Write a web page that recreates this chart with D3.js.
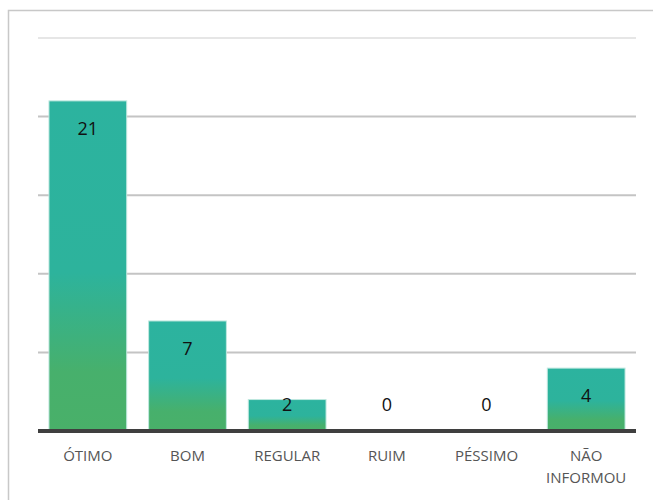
<!DOCTYPE html>
<html>
<head>
<meta charset="utf-8">
<script src="https://cdn.jsdelivr.net/npm/d3@7"></script>
<style>
  body { margin: 0; background: #fff; }
  svg { display: block; }
</style>
</head>
<body>
<div id="chart"></div>
<script>
var categories = ["ÓTIMO", "BOM", "REGULAR", "RUIM", "PÉSSIMO", "NÃO INFORMOU"];
var values = [21, 7, 2, 0, 0, 4];
var gridTicks = [0, 5, 10, 15, 20, 25];

var width = 653, height = 500;
var plot = {left: 38, right: 636, top: 38, bottom: 431};

var svg = d3.select("#chart").append("svg")
    .attr("width", width)
    .attr("height", height);

// frame (runs off the right and bottom edges)
svg.append("rect")
    .attr("x", 8.5).attr("y", 10.5)
    .attr("width", 700).attr("height", 600)
    .attr("fill", "none")
    .attr("stroke", "#c8c8c8")
    .attr("stroke-width", 1.5);

var x = d3.scaleBand()
    .domain(categories)
    .range([plot.left, plot.right])
    .paddingInner(0.22)
    .paddingOuter(0.11);

var y = d3.scaleLinear()
    .domain([0, 25])
    .range([plot.bottom, plot.top]);

// gradient for the bars
var grad = svg.append("defs").append("linearGradient")
    .attr("id", "barGrad")
    .attr("x1", 0).attr("y1", 0).attr("x2", 0).attr("y2", 1);
grad.append("stop").attr("offset", "0%").attr("stop-color", "#2cb39f");
grad.append("stop").attr("offset", "52%").attr("stop-color", "#2db39c");
grad.append("stop").attr("offset", "82%").attr("stop-color", "#47b06c");
grad.append("stop").attr("offset", "100%").attr("stop-color", "#49b069");

// gridlines
svg.append("g").selectAll("line")
    .data(gridTicks.filter(function(d) { return d > 0; }))
    .join("line")
    .attr("x1", plot.left).attr("x2", plot.right)
    .attr("y1", function(d) { return y(d); })
    .attr("y2", function(d) { return y(d); })
    .attr("stroke", function(d) { return d === 25 ? "#e6e6e6" : "#c4c4c4"; })
    .attr("stroke-width", 2);

// bars
svg.append("g").selectAll("rect")
    .data(values.map(function(v, i) { return {cat: categories[i], v: v}; }).filter(function(d) { return d.v > 0; }))
    .join("rect")
    .attr("x", function(d) { return x(d.cat); })
    .attr("y", function(d) { return y(d.v); })
    .attr("width", x.bandwidth())
    .attr("height", function(d) { return y(0) - y(d.v); })
    .attr("fill", "url(#barGrad)")
    .attr("stroke", "#bfe8df")
    .attr("stroke-width", 1);

// baseline
svg.append("line")
    .attr("x1", plot.left).attr("x2", plot.right)
    .attr("y1", y(0)).attr("y2", y(0))
    .attr("stroke", "#3f3f3f")
    .attr("stroke-width", 4);

// value labels
svg.append("g").selectAll("text")
    .data(values)
    .join("text")
    .attr("x", function(d, i) { return x(categories[i]) + x.bandwidth() / 2; })
    .attr("y", function(d) { return Math.min(y(d) + 28, 405); })
    .attr("dy", "0.35em")
    .attr("text-anchor", "middle")
    .style("font-family", "'Open Sans', sans-serif")
    .style("font-size", "18px")
    .attr("fill", "#111")
    .text(function(d) { return d; });

// category labels
var labels = svg.append("g").selectAll("text")
    .data(categories)
    .join("text")
    .attr("x", function(d) { return x(d) + x.bandwidth() / 2; })
    .attr("y", 456)
    .attr("dy", "0.35em")
    .attr("text-anchor", "middle")
    .style("font-family", "'Open Sans', sans-serif")
    .style("font-size", "15px")
    .attr("fill", "#555");

labels.each(function(d) {
    var words = d.split(" ");
    var t = d3.select(this);
    if (words.length > 1 && d.length > 9) {
        words.forEach(function(w, i) {
            t.append("tspan")
                .attr("x", t.attr("x"))
                .attr("dy", i === 0 ? "0.35em" : "22px")
                .text(w);
        });
        t.attr("dy", null);
    } else {
        t.text(d);
    }
});
</script>
</body>
</html>
